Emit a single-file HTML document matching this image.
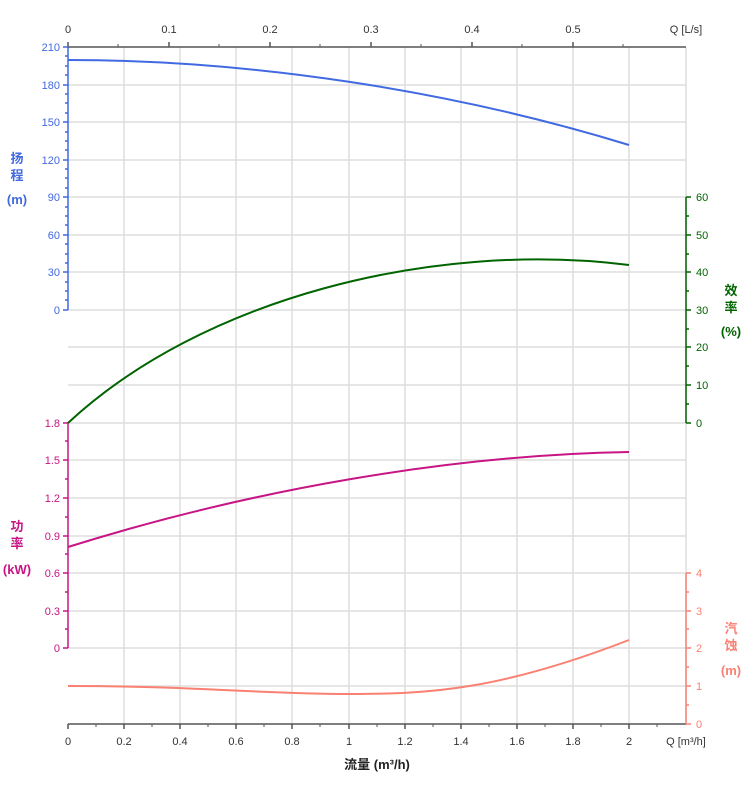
<!DOCTYPE html><html><head><meta charset="utf-8"><style>body{margin:0;background:#fff}svg{display:block;font-family:"Liberation Sans","Noto Sans CJK SC",sans-serif}</style></head><body>
<svg width="752" height="797" viewBox="0 0 752 797">
<g stroke="#ddd" stroke-width="1.5">
<line x1="124" y1="47" x2="124" y2="724"/><line x1="180" y1="47" x2="180" y2="724"/><line x1="236" y1="47" x2="236" y2="724"/><line x1="292" y1="47" x2="292" y2="724"/><line x1="349" y1="47" x2="349" y2="724"/><line x1="405" y1="47" x2="405" y2="724"/><line x1="461" y1="47" x2="461" y2="724"/><line x1="517" y1="47" x2="517" y2="724"/><line x1="573" y1="47" x2="573" y2="724"/><line x1="629" y1="47" x2="629" y2="724"/><line x1="686" y1="47" x2="686" y2="724"/>
<line x1="68" y1="85" x2="686" y2="85"/><line x1="68" y1="122" x2="686" y2="122"/><line x1="68" y1="160" x2="686" y2="160"/><line x1="68" y1="197" x2="686" y2="197"/><line x1="68" y1="235" x2="686" y2="235"/><line x1="68" y1="272" x2="686" y2="272"/><line x1="68" y1="310" x2="686" y2="310"/><line x1="68" y1="347" x2="686" y2="347"/><line x1="68" y1="385" x2="686" y2="385"/><line x1="68" y1="423" x2="686" y2="423"/><line x1="68" y1="460" x2="686" y2="460"/><line x1="68" y1="498" x2="686" y2="498"/><line x1="68" y1="536" x2="686" y2="536"/><line x1="68" y1="573" x2="686" y2="573"/><line x1="68" y1="611" x2="686" y2="611"/><line x1="68" y1="648" x2="686" y2="648"/><line x1="68" y1="686" x2="686" y2="686"/>
</g>
<g stroke="#555" stroke-width="1.5"><line x1="68" y1="47" x2="686" y2="47"/><line x1="68" y1="724" x2="686" y2="724"/></g>
<g stroke="#555" stroke-width="1.5">
<path d="M68 724v5M124 724v5M180 724v5M236 724v5M292 724v5M349 724v5M405 724v5M461 724v5M517 724v5M573 724v5M629 724v5M68 47v-5M169 47v-5M270 47v-5M371 47v-5M472 47v-5M573 47v-5"/>
<path stroke-width="1" d="M96 724v3M152 724v3M208 724v3M264 724v3M320 724v3M377 724v3M433 724v3M489 724v3M545 724v3M601 724v3M657 724v3M118 47v-3M219 47v-3M320 47v-3M421 47v-3M522 47v-3M623 47v-3"/>
</g>
<line x1="68" y1="47" x2="68" y2="310" stroke="#4169E1" stroke-width="1.5"/>
<path stroke="#4169E1" stroke-width="1.5" d="M63 47h5M63 85h5M63 122h5M63 160h5M63 197h5M63 235h5M63 272h5M63 310h5M65 56h3M65 66h3M65 75h3M65 94h3M65 103h3M65 113h3M65 132h3M65 141h3M65 150h3M65 169h3M65 178h3M65 188h3M65 207h3M65 216h3M65 225h3M65 244h3M65 254h3M65 263h3M65 282h3M65 291h3M65 300h3"/>
<line x1="68" y1="423" x2="68" y2="648" stroke="#C71585" stroke-width="1.5"/>
<path stroke="#C71585" stroke-width="1.5" d="M63 423h5M63 460h5M63 498h5M63 536h5M63 573h5M63 611h5M63 648h5M65 441h3M65 479h3M65 517h3M65 554h3M65 592h3M65 629h3"/>
<line x1="686" y1="197" x2="686" y2="423" stroke="#006400" stroke-width="1.5"/>
<path stroke="#006400" stroke-width="1.5" d="M686 197h5M686 235h5M686 272h5M686 310h5M686 347h5M686 385h5M686 423h5M686 216h3M686 254h3M686 291h3M686 329h3M686 366h3M686 404h3"/>
<line x1="686" y1="573" x2="686" y2="724" stroke="#FA8072" stroke-width="1.5"/>
<path stroke="#FA8072" stroke-width="1.5" d="M686 573h5M686 611h5M686 648h5M686 686h5M686 724h5M686 592h3M686 629h3M686 667h3M686 705h3"/>
<g font-size="11" fill="#4169E1" text-anchor="end"><text x="60" y="51">210</text><text x="60" y="89">180</text><text x="60" y="126">150</text><text x="60" y="164">120</text><text x="60" y="201">90</text><text x="60" y="239">60</text><text x="60" y="276">30</text><text x="60" y="314">0</text></g>
<g font-size="11" fill="#C71585" text-anchor="end"><text x="60" y="427">1.8</text><text x="60" y="464">1.5</text><text x="60" y="502">1.2</text><text x="60" y="540">0.9</text><text x="60" y="577">0.6</text><text x="60" y="615">0.3</text><text x="60" y="652">0</text></g>
<g font-size="11" fill="#006400"><text x="696" y="201">60</text><text x="696" y="239">50</text><text x="696" y="276">40</text><text x="696" y="314">30</text><text x="696" y="351">20</text><text x="696" y="389">10</text><text x="696" y="427">0</text></g>
<g font-size="11" fill="#FA8072"><text x="696" y="577">4</text><text x="696" y="615">3</text><text x="696" y="652">2</text><text x="696" y="690">1</text><text x="696" y="728">0</text></g>
<g font-size="11" fill="#333" text-anchor="middle"><text x="68" y="745">0</text><text x="124" y="745">0.2</text><text x="180" y="745">0.4</text><text x="236" y="745">0.6</text><text x="292" y="745">0.8</text><text x="349" y="745">1</text><text x="405" y="745">1.2</text><text x="461" y="745">1.4</text><text x="517" y="745">1.6</text><text x="573" y="745">1.8</text><text x="629" y="745">2</text><text x="686" y="745">Q [m³/h]</text>
<text x="68" y="33">0</text><text x="169" y="33">0.1</text><text x="270" y="33">0.2</text><text x="371" y="33">0.3</text><text x="472" y="33">0.4</text><text x="573" y="33">0.5</text><text x="686" y="33">Q [L/s]</text></g>
<text x="377" y="769" font-size="13" font-weight="bold" text-anchor="middle" fill="#222">流量 (m³/h)</text>
<g font-size="13" font-weight="bold" text-anchor="middle">
<text fill="#4169E1"><tspan x="17" y="163">扬</tspan><tspan x="17" y="180">程</tspan><tspan x="17" y="204">(m)</tspan></text>
<text fill="#C71585"><tspan x="17" y="531">功</tspan><tspan x="17" y="548">率</tspan><tspan x="17" y="574">(kW)</tspan></text>
<text fill="#006400"><tspan x="731" y="295">效</tspan><tspan x="731" y="312">率</tspan><tspan x="731" y="336">(%)</tspan></text>
<text fill="#FA8072"><tspan x="731" y="633">汽</tspan><tspan x="731" y="650">蚀</tspan><tspan x="731" y="675">(m)</tspan></text>
</g>
<g fill="none" stroke-width="2">
<path stroke="#4169E1" d="M68 60C250 60 450 90 629 145"/>
<path stroke="#006400" d="M68 423C200 300 430 240 629 265"/>
<path stroke="#C71585" d="M68 547C250 490 450 455 629 452"/>
<path stroke="#FA8072" d="M68 686C200 686 260 694 349 694C430 694 500 690 629 640"/>
</g>
</svg></body></html>
